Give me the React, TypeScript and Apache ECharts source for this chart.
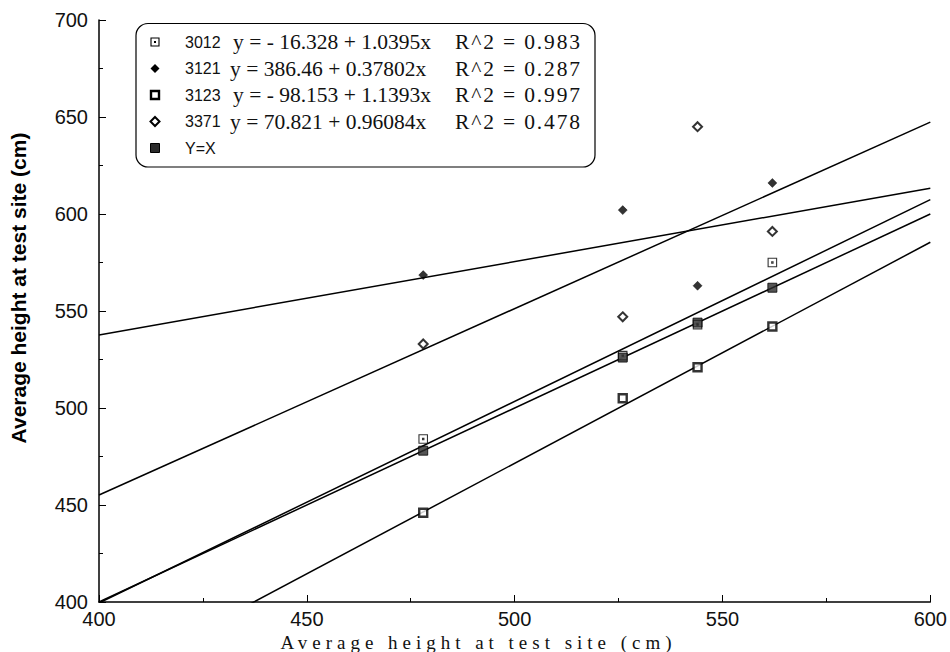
import { useEffect, useRef } from 'react';
import * as echarts from 'echarts';

// ---- data ----
const groupNames = ['3012', '3121', '3123', '3371'];
const identityName = 'Y=X';
const xValues = [478, 526, 544, 562];
const y3012 = [484, 527, 543, 575];
const y3121 = [568.5, 602, 563, 616];
const y3123 = [446, 505, 521, 542];
const y3371 = [533, 547, 645, 591];
const yIdentity = [478, 526, 544, 562];
const intercepts = [-16.328, 386.46, -98.153, 70.821];
const slopes = [1.0395, 0.37802, 1.1393, 0.96084];
const rSquared = ['0.983', '0.287', '0.997', '0.478'];
const xRange = [400, 600];
const yRange = [400, 700];
const tickStep = 50;
const axisTitle = 'Average height at test site (cm)';

const groupValues = [y3012, y3121, y3123, y3371];

type Kind = 'dotSquare' | 'filledDiamond' | 'boldSquare' | 'openDiamond' | 'filledSquare';
const kinds: Kind[] = ['dotSquare', 'filledDiamond', 'boldSquare', 'openDiamond'];

const DIAMOND = 'path://M5,0L10,5L5,10L0,5Z';
const DOT_SQUARE = 'path://M0,0H10V10H0Z M4.2,4.2H5.8V5.8H4.2Z';

function symbolFor(kind: Kind) {
  switch (kind) {
    case 'dotSquare':
      return { symbol: DOT_SQUARE, symbolSize: 8.5, itemStyle: { color: '#fff', borderColor: '#000', borderWidth: 1.1 } };
    case 'filledDiamond':
      return { symbol: DIAMOND, symbolSize: 9, itemStyle: { color: '#000', borderColor: '#000', borderWidth: 0.5 } };
    case 'boldSquare':
      return { symbol: 'rect', symbolSize: 8, itemStyle: { color: '#fff', borderColor: '#000', borderWidth: 2.4 } };
    case 'openDiamond':
      return { symbol: DIAMOND, symbolSize: 9, itemStyle: { color: '#fff', borderColor: '#000', borderWidth: 2 } };
    default:
      return { symbol: 'rect', symbolSize: 9, itemStyle: { color: '#2b2b2b', borderColor: '#000', borderWidth: 1 } };
  }
}

function legendMarker(kind: Kind, cx: number, cy: number): any[] {
  const s = 4.5;
  switch (kind) {
    case 'dotSquare':
      return [
        { type: 'rect', shape: { x: cx - 4, y: cy - 4, width: 8, height: 8 }, style: { fill: '#fff', stroke: '#000', lineWidth: 1.1 } },
        { type: 'rect', shape: { x: cx - 1, y: cy - 1, width: 2, height: 2 }, style: { fill: '#000' } },
      ];
    case 'filledDiamond':
      return [{ type: 'polygon', shape: { points: [[cx, cy - s], [cx + s, cy], [cx, cy + s], [cx - s, cy]] }, style: { fill: '#000' } }];
    case 'boldSquare':
      return [{ type: 'rect', shape: { x: cx - 4, y: cy - 4, width: 8, height: 8 }, style: { fill: '#fff', stroke: '#000', lineWidth: 2.4 } }];
    case 'openDiamond':
      return [{ type: 'polygon', shape: { points: [[cx, cy - s], [cx + s, cy], [cx, cy + s], [cx - s, cy]] }, style: { fill: '#fff', stroke: '#000', lineWidth: 2 } }];
    default:
      return [{ type: 'rect', shape: { x: cx - s, y: cy - s, width: 2 * s, height: 2 * s }, style: { fill: '#2b2b2b', stroke: '#000', lineWidth: 1 } }];
  }
}

function equation(i: number) {
  const a = intercepts[i];
  const b = slopes[i];
  const head = a < 0 ? `y = - ${Math.abs(a)}` : `y = ${a}`;
  return `${head} + ${b}x`;
}

export default function App() {
  const ref = useRef<HTMLDivElement>(null);

  useEffect(() => {
    const el = ref.current!;
    const chart = echarts.init(el, undefined, { renderer: 'svg' });

    const fitSeries = groupNames.map((name, i) => ({
      name: `fit ${name}`,
      type: 'line',
      data: xRange.map((x) => [x, intercepts[i] + slopes[i] * x]),
      showSymbol: false,
      symbol: 'none',
      clip: true,
      lineStyle: { color: '#000', width: 1.5 },
      z: 2,
      silent: true,
    }));
    const identityLine = {
      name: 'fit Y=X',
      type: 'line',
      data: xRange.map((x) => [x, x]),
      showSymbol: false,
      symbol: 'none',
      clip: true,
      lineStyle: { color: '#000', width: 1.5 },
      z: 2,
      silent: true,
    };
    const pointSeries = groupNames.map((name, i) => ({
      name,
      type: 'scatter',
      data: xValues.map((x, j) => [x, groupValues[i][j]]),
      ...symbolFor(kinds[i]),
      z: 4,
    }));
    const identityPoints = {
      name: identityName,
      type: 'scatter',
      data: xValues.map((x, j) => [x, yIdentity[j]]),
      ...symbolFor('filledSquare'),
      z: 5,
    };

    // legend drawn as graphic
    const boxX = 136, boxY = 23.5, boxW = 459, boxH = 143.5;
    const row0 = 42, rowGap = 26.5;
    const legendEls: any[] = [
      { type: 'rect', shape: { x: boxX, y: boxY, width: boxW, height: boxH, r: 12 }, style: { fill: '#fff', stroke: '#000', lineWidth: 1.2 }, z: 10 },
    ];
    const allNames = [...groupNames, identityName];
    const allKinds: Kind[] = [...kinds, 'filledSquare'];
    allNames.forEach((name, i) => {
      const cy = row0 + i * rowGap;
      legendMarker(allKinds[i], 155, cy).forEach((m) => legendEls.push({ ...m, z: 11 }));
      legendEls.push({ type: 'text', x: 185, y: cy, z: 11, style: { text: name, font: '16px "Liberation Sans"', fill: '#111', verticalAlign: 'middle', textAlign: 'left' } });
      if (i < groupNames.length) {
        legendEls.push({ type: 'text', x: intercepts[i] < 0 ? 233 : 230, y: cy, z: 11, style: { text: equation(i), font: '21.5px "Liberation Serif"', fill: '#111', verticalAlign: 'middle', textAlign: 'left' } });
        legendEls.push({ type: 'text', x: 455, y: cy, z: 11, style: { text: `R^2 = ${rSquared[i]}`, font: '21.5px "Liberation Serif"', fill: '#111', verticalAlign: 'middle', textAlign: 'left' } });
      }
    });

    const axisCommon = {
      type: 'value',
      interval: tickStep,
      axisLine: { show: true, onZero: false, lineStyle: { color: '#000', width: 1.5 } },
      axisTick: { show: true, inside: true, length: 7, lineStyle: { color: '#000', width: 1 } },
      minorTick: { show: true, splitNumber: 2, length: 4, lineStyle: { color: '#000', width: 1 } },
      splitLine: { show: false },
      minorSplitLine: { show: false },
    };

    chart.setOption({
      animation: false,
      backgroundColor: '#fff',
      grid: { left: 99, right: 16, top: 20, bottom: 50 },
      xAxis: {
        ...axisCommon,
        min: xRange[0],
        max: xRange[1],
        axisLabel: { fontFamily: 'Liberation Sans', fontSize: 20, lineHeight: 20, color: '#111', margin: 7 },
      },
      yAxis: {
        ...axisCommon,
        min: yRange[0],
        max: yRange[1],
        axisLabel: { fontFamily: 'Liberation Sans', fontSize: 20, color: '#111', margin: 11 },
      },
      series: [...fitSeries, identityLine, identityPoints, ...pointSeries],
      graphic: [
        ...legendEls,
        {
          type: 'text', x: 18, y: 288, rotation: Math.PI / 2, z: 10,
          style: { text: axisTitle, font: 'bold 21px "Liberation Sans"', fill: '#000', textAlign: 'center', verticalAlign: 'middle' },
        },
        {
          type: 'text', x: 476, y: 642, z: 10,
          style: { text: axisTitle, font: '19px "Liberation Serif"', fill: '#111', textAlign: 'center', verticalAlign: 'middle' },
        },
      ],
    });

    // the reference's x-axis title and R^2 texts are letter-spaced: stretch them with SVG textLength
    const spread = () => {
      el.querySelectorAll('text').forEach((t) => {
        const txt = t.textContent || '';
        if (!t.outerHTML.includes('Serif')) return;
        if (txt === axisTitle) {
          t.setAttribute('textLength', '391');
          t.setAttribute('lengthAdjust', 'spacing');
        } else if (txt.startsWith('R^2')) {
          t.setAttribute('textLength', '125');
          t.setAttribute('lengthAdjust', 'spacing');
        }
      });
    };
    spread();
    chart.on('finished', spread);

    return () => chart.dispose();
  }, []);

  return <div ref={ref} style={{ position: 'fixed', left: 0, top: 0, width: 950, height: 652 }} />;
}
